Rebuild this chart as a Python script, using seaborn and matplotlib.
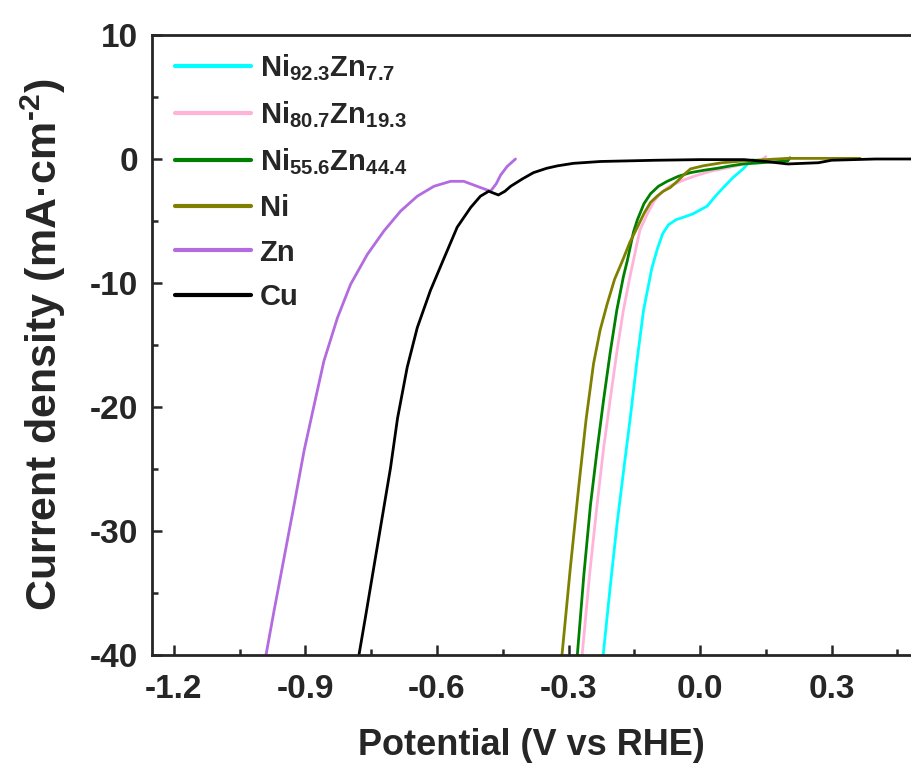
import matplotlib
matplotlib.use("Agg")
import matplotlib.pyplot as plt
from matplotlib.ticker import MultipleLocator
import pandas as pd
import seaborn as sns

# LSV curves (potential in V vs RHE, current density in mA/cm2)
ni92_x = [-0.221, -0.205, -0.189, -0.174, -0.159, -0.144, -0.129, -0.110, -0.097, -0.085,
          -0.072, -0.055, -0.030, -0.015, 0.016, 0.035, 0.053, 0.075, 0.098, 0.114, 0.120]
ni92_y = [-40.0, -34.5, -29.3, -25.0, -20.8, -16.3, -12.2, -8.8, -7.2, -6.0,
          -5.3, -4.9, -4.6, -4.4, -3.8, -3.0, -2.3, -1.5, -0.8, -0.2, -0.05]

ni80_x = [-0.269, -0.252, -0.235, -0.220, -0.205, -0.190, -0.175, -0.160, -0.145, -0.137,
          -0.120, -0.105, -0.091, -0.070, -0.038, -0.010, 0.023, 0.050, 0.076, 0.110,
          0.140, 0.150]
ni80_y = [-40.0, -33.5, -27.9, -23.3, -19.4, -15.6, -12.2, -9.5, -7.0, -5.7,
          -4.4, -3.4, -2.8, -2.2, -1.7, -1.35, -1.0, -0.8, -0.6, -0.35,
          -0.1, 0.2]

ni55_x = [-0.280, -0.265, -0.250, -0.235, -0.220, -0.205, -0.190, -0.175, -0.166, -0.152,
          -0.143, -0.128, -0.113, -0.095, -0.075, -0.050, -0.022, 0.010, 0.039, 0.070,
          0.098, 0.140, 0.200, 0.205]
ni55_y = [-40.0, -33.5, -27.9, -23.5, -19.4, -15.6, -12.2, -9.5, -8.2, -5.9,
          -4.9, -3.6, -2.8, -2.2, -1.8, -1.4, -1.1, -0.9, -0.75, -0.55,
          -0.4, -0.3, -0.15, 0.1]

ni_x = [-0.315, -0.296, -0.277, -0.260, -0.243, -0.228, -0.212, -0.195, -0.177, -0.160,
        -0.143, -0.128, -0.113, -0.098, -0.084, -0.068, -0.052, -0.035, -0.022, 0.007,
        0.050, 0.100, 0.150, 0.200, 0.300, 0.365]
ni_y = [-40.0, -33.0, -26.5, -21.0, -16.5, -13.8, -11.7, -9.7, -8.2, -6.7,
        -5.5, -4.4, -3.5, -3.0, -2.6, -2.3, -1.8, -1.2, -0.8, -0.55,
        -0.3, -0.15, -0.05, 0.05, 0.05, 0.05]

zn_x = [-0.990, -0.972, -0.949, -0.926, -0.903, -0.880, -0.858, -0.827, -0.797, -0.759,
        -0.721, -0.683, -0.645, -0.607, -0.569, -0.539, -0.501, -0.478, -0.465, -0.455,
        -0.440, -0.421]
zn_y = [-40.0, -36.5, -32.2, -27.9, -23.5, -19.8, -16.3, -12.8, -10.1, -7.7,
        -5.8, -4.2, -3.0, -2.2, -1.8, -1.8, -2.3, -2.6, -2.0, -1.3,
        -0.6, 0.0]

cu_x = [-0.778, -0.763, -0.744, -0.725, -0.706, -0.690, -0.668, -0.645, -0.615, -0.584,
        -0.554, -0.523, -0.501, -0.482, -0.460, -0.445, -0.432, -0.405, -0.380, -0.350,
        -0.325, -0.289, -0.227, -0.100, 0.000, 0.100, 0.150, 0.200, 0.270, 0.300,
        0.400, 0.500]
cu_y = [-40.0, -36.9, -32.9, -28.9, -24.9, -20.9, -16.8, -13.6, -10.6, -8.0,
        -5.5, -3.9, -3.0, -2.6, -2.9, -2.6, -2.2, -1.6, -1.1, -0.75,
        -0.55, -0.35, -0.2, -0.1, -0.05, -0.05, -0.2, -0.4, -0.3, -0.1,
        0.0, 0.0]

labels = [
    r"Ni$_{92.3}$Zn$_{7.7}$",
    r"Ni$_{80.7}$Zn$_{19.3}$",
    r"Ni$_{55.6}$Zn$_{44.4}$",
    "Ni",
    "Zn",
    "Cu",
]
colors = ["#00ffff", "#ffb3d9", "#008000", "#808000", "#b36be0", "#000000"]

series = [(ni92_x, ni92_y), (ni80_x, ni80_y), (ni55_x, ni55_y),
          (ni_x, ni_y), (zn_x, zn_y), (cu_x, cu_y)]
frames = []
for lab, (xs, ys) in zip(labels, series):
    frames.append(pd.DataFrame({"potential": xs, "current": ys, "sample": lab}))
df = pd.concat(frames, ignore_index=True)

sns.set_style("ticks")
plt.rcParams["font.family"] = ["Liberation Sans", "DejaVu Sans"]
plt.rcParams["font.weight"] = "bold"
plt.rcParams["mathtext.fontset"] = "custom"
plt.rcParams["mathtext.rm"] = "Liberation Sans:bold"
plt.rcParams["mathtext.bf"] = "Liberation Sans:bold"
plt.rcParams["mathtext.it"] = "Liberation Sans:bold:italic"
plt.rcParams["mathtext.default"] = "rm"

fig = plt.figure(figsize=(9.11, 7.65), dpi=100)
ax = fig.add_axes([152 / 911, 1 - 655 / 765, 1 - 152 / 911, 620 / 765])

sns.lineplot(data=df, x="potential", y="current", hue="sample", hue_order=labels,
             palette=colors, sort=False, estimator=None, linewidth=2.0, ax=ax)

ax.set_xlim(-1.25, 0.481)
ax.set_ylim(-40, 10)
ax.xaxis.set_minor_locator(MultipleLocator(0.15))
ax.yaxis.set_minor_locator(MultipleLocator(5))
ax.set_xticks([-1.2, -0.9, -0.6, -0.3, 0.0, 0.3])
ax.set_xticklabels(["-1.2", "-0.9", "-0.6", "-0.3", "0.0", "0.3"])
ax.set_yticks([-40, -30, -20, -10, 0, 10])
ax.set_yticklabels(["-40", "-30", "-20", "-10", "0", "10"])

ax.tick_params(which="both", direction="in", width=1.8, top=False, right=False)
ax.tick_params(which="major", length=7)
ax.tick_params(which="minor", length=4)
ax.tick_params(axis="x", which="major", labelsize=24, pad=14)
ax.tick_params(axis="y", which="major", labelsize=24, pad=10)
for lab in ax.get_xticklabels() + ax.get_yticklabels():
    lab.set_fontweight("bold")

for side in ["left", "bottom", "top"]:
    ax.spines[side].set_linewidth(2.0)
ax.spines["right"].set_visible(False)

ax.set_xlabel("Potential (V vs RHE)", fontsize=26, fontweight="bold", labelpad=16)
ax.set_ylabel("Current density (mA·cm$^{\u2010 2}$)", fontsize=31, fontweight="bold",
              labelpad=16)

handles, labs = ax.get_legend_handles_labels()
leg = ax.legend(handles, labs, loc="upper left", bbox_to_anchor=(23 / 759, 0.973),
                frameon=False, borderpad=0, borderaxespad=0, handlelength=2.6,
                handletextpad=0.3, labelspacing=0.57, prop={"size": 21, "weight": "bold"})
for line in leg.get_lines():
    line.set_linewidth(3.0)

fig.savefig("out.png", dpi=100, facecolor="white")
